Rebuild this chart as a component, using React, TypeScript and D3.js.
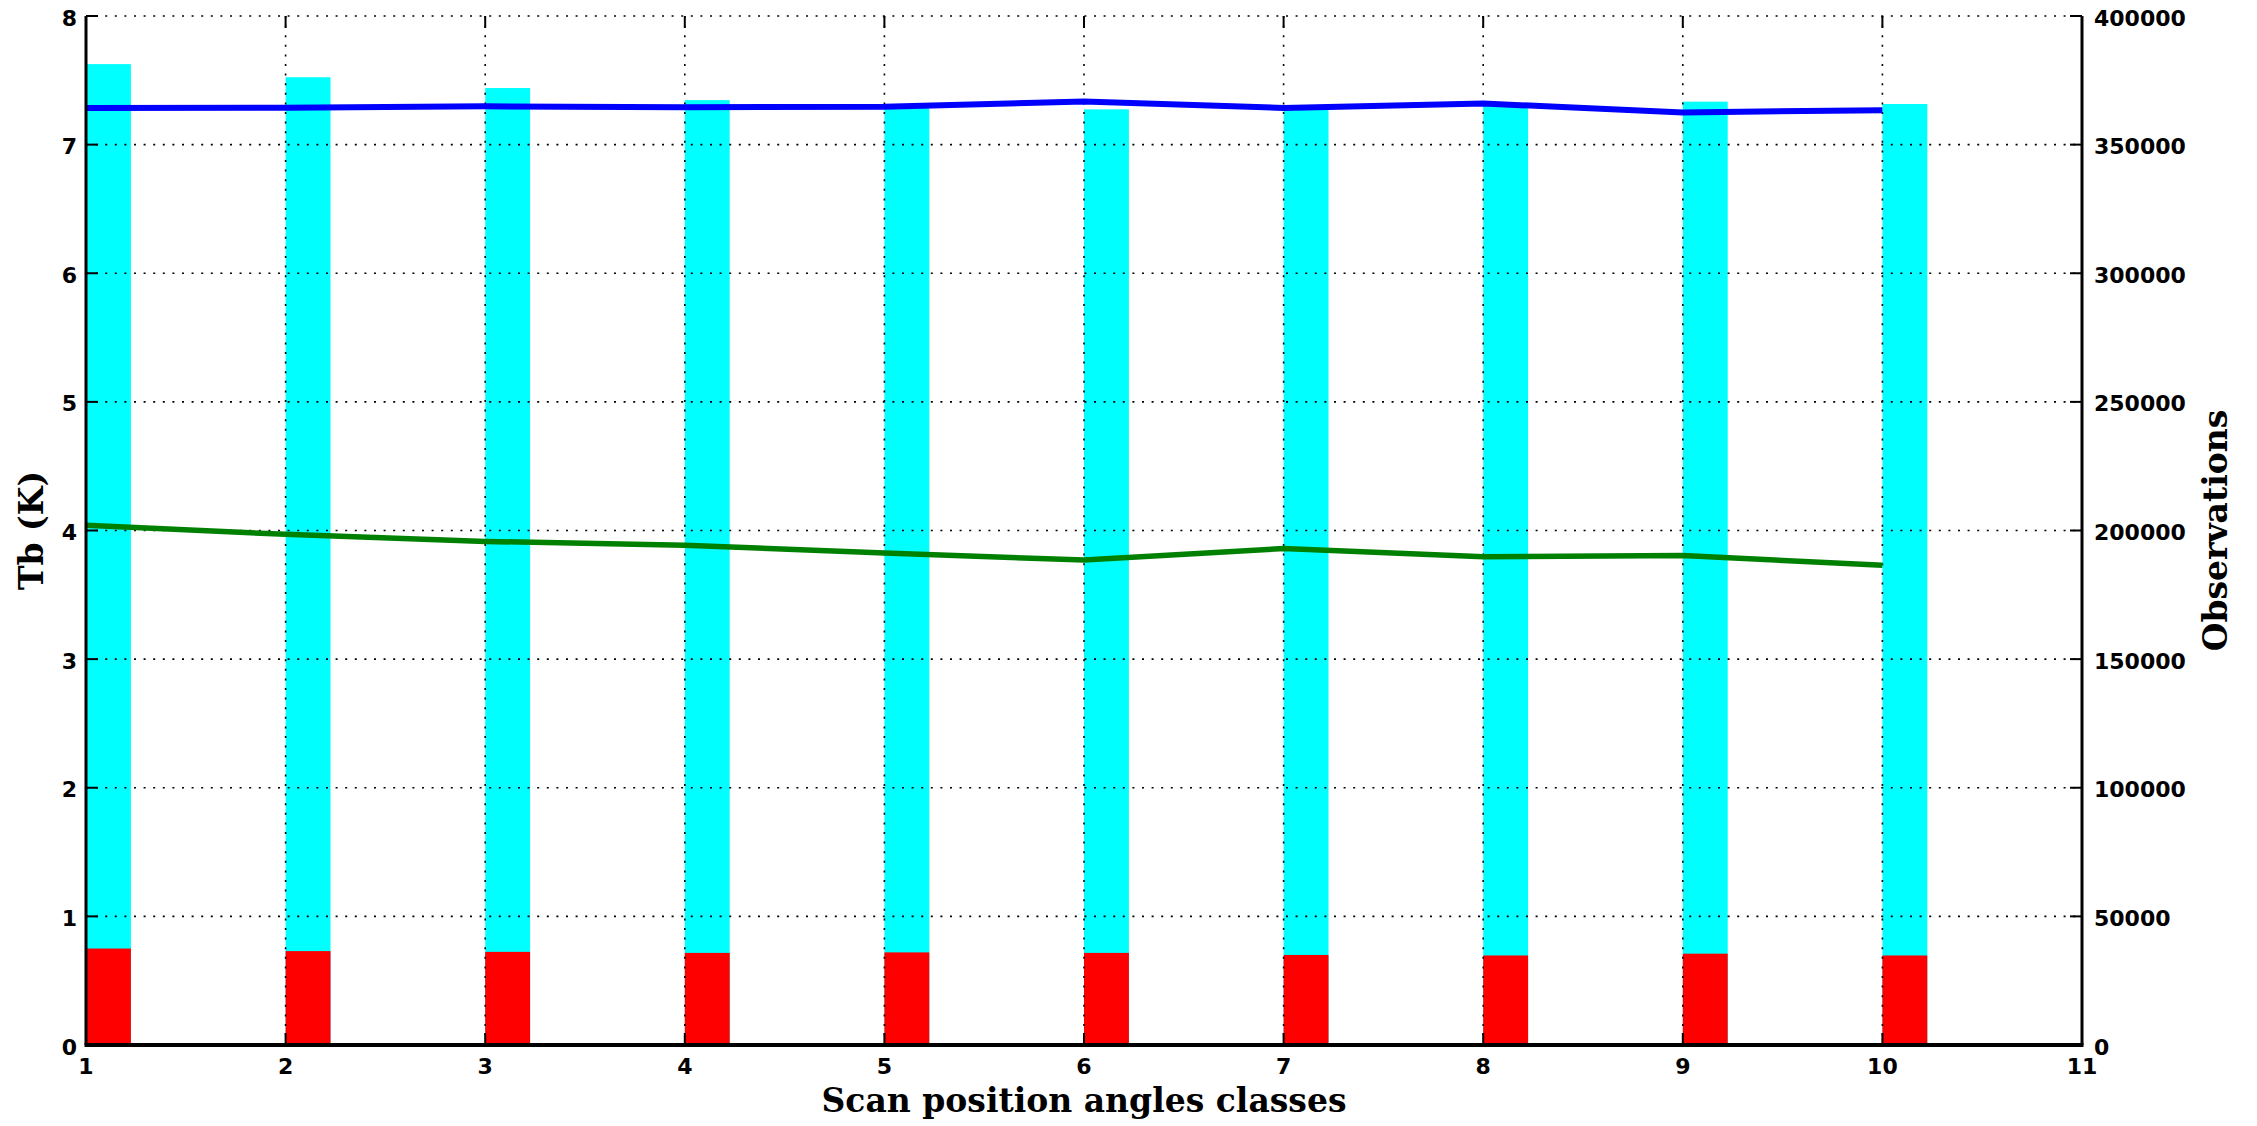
import React from "react";
import * as d3 from "d3";

const classes = [1, 2, 3, 4, 5, 6, 7, 8, 9, 10];
const blueTb = [7.285, 7.287, 7.298, 7.29, 7.295, 7.335, 7.285, 7.32, 7.25, 7.268];
const greenTb = [4.04, 3.97, 3.915, 3.885, 3.825, 3.77, 3.86, 3.795, 3.805, 3.73];
const cyanObs = [381300, 376200, 372000, 367300, 364500, 363700, 364700, 365400, 366700, 365800];
const redObs = [37500, 36500, 36200, 35800, 36000, 35800, 35000, 34800, 35500, 34800];
const xTicks = [1, 2, 3, 4, 5, 6, 7, 8, 9, 10, 11];
const leftTicks = [0, 1, 2, 3, 4, 5, 6, 7, 8];
const rightTicks = [0, 50000, 100000, 150000, 200000, 250000, 300000, 350000, 400000];

const W = 2257;
const H = 1126;
const L = 86;
const R = 2082;
const T = 16;
const B = 1045;
const BAR_W = 0.225;

export default function App() {
  const x = d3.scaleLinear().domain([1, 11]).range([L, R]);
  const yL = d3.scaleLinear().domain([0, 8]).range([B, T]);
  const yR = d3.scaleLinear().domain([0, 400000]).range([B, T]);
  const line = d3
    .line<number>()
    .x((_, i) => x(classes[i]))
    .y((d) => yL(d));
  const tickFont = { fontFamily: "DejaVu Sans", fontWeight: "bold", fontSize: 22 } as const;
  const titleFont = { fontFamily: "DejaVu Serif", fontWeight: "bold", fontSize: 33 } as const;
  const bw = x(1 + BAR_W) - x(1);
  return (
    <svg
      width={W}
      height={H}
      style={{ position: "absolute", left: 0, top: 0, display: "block", background: "#fff" }}
    >
      <rect x={0} y={0} width={W} height={H} fill="#fff" />
      {classes.map((c, i) => (
        <rect key={"c" + c} x={x(c)} y={yR(cyanObs[i])} width={bw} height={B - yR(cyanObs[i])} fill="#00ffff" />
      ))}
      {classes.map((c, i) => (
        <rect key={"r" + c} x={x(c)} y={yR(redObs[i])} width={bw} height={B - yR(redObs[i])} fill="#ff0000" />
      ))}
      {leftTicks.slice(1).map((t) => (
        <line key={"gy" + t} x1={L} x2={R} y1={yL(t)} y2={yL(t)} stroke="#000" strokeWidth={1.6} strokeDasharray="2,7.6" />
      ))}
      {xTicks.slice(1, -1).map((t) => (
        <line key={"gx" + t} x1={x(t)} x2={x(t)} y1={T} y2={B} stroke="#000" strokeWidth={1.6} strokeDasharray="2,7.6" />
      ))}
      <path d={line(greenTb) || ""} fill="none" stroke="#008000" strokeWidth={5.5} />
      <path d={line(blueTb) || ""} fill="none" stroke="#0000ff" strokeWidth={6} />
      {leftTicks.map((t) => (
        <line key={"lt" + t} x1={L} x2={L + 12} y1={yL(t)} y2={yL(t)} stroke="#000" strokeWidth={2} />
      ))}
      {rightTicks.map((t) => (
        <line key={"rt" + t} x1={R - 12} x2={R} y1={yR(t)} y2={yR(t)} stroke="#000" strokeWidth={2} />
      ))}
      {xTicks.map((t) => (
        <g key={"xt" + t}>
          <line x1={x(t)} x2={x(t)} y1={B} y2={B - 12} stroke="#000" strokeWidth={2} />
          <line x1={x(t)} x2={x(t)} y1={T} y2={T + 12} stroke="#000" strokeWidth={2} />
        </g>
      ))}
      <line x1={L} x2={L} y1={T} y2={B} stroke="#000" strokeWidth={3} />
      <line x1={R} x2={R} y1={T} y2={B} stroke="#000" strokeWidth={3} />
      <line x1={L - 1.5} x2={R + 1.5} y1={B} y2={B} stroke="#000" strokeWidth={4} />
      {leftTicks.map((t) => (
        <text key={"ll" + t} x={L - 9} y={yL(t) + 9.5} textAnchor="end" {...tickFont}>
          {t}
        </text>
      ))}
      {rightTicks.map((t) => (
        <text key={"rl" + t} x={R + 12} y={yR(t) + 9.5} textAnchor="start" {...tickFont}>
          {t}
        </text>
      ))}
      {xTicks.map((t) => (
        <text key={"xl" + t} x={x(t)} y={1074} textAnchor="middle" {...tickFont}>
          {t}
        </text>
      ))}
      <text x={(L + R) / 2} y={1112} textAnchor="middle" {...titleFont}>
        Scan position angles classes
      </text>
      <text transform={`translate(43,${(T + B) / 2}) rotate(-90)`} textAnchor="middle" {...titleFont}>
        Tb (K)
      </text>
      <text transform={`translate(2227,${(T + B) / 2}) rotate(-90)`} textAnchor="middle" {...titleFont}>
        Observations
      </text>
    </svg>
  );
}
